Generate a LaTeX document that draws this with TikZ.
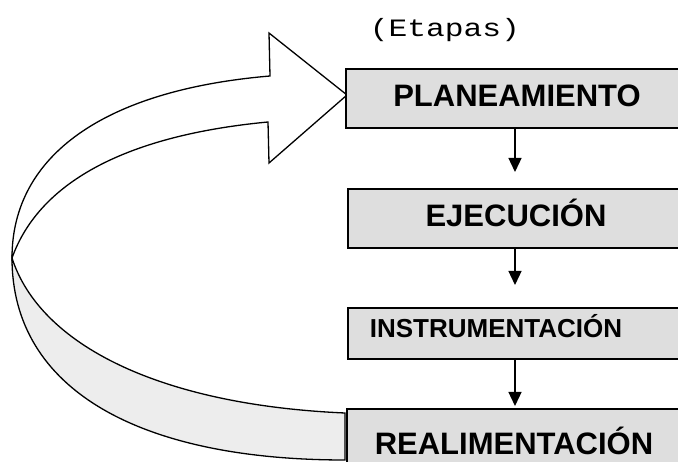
\documentclass[tikz,border=0pt]{standalone}
\usepackage{fontspec}
\usepackage{graphicx}
\setmainfont{Liberation Sans}
\newfontfamily\monofam{Liberation Mono}
\usetikzlibrary{arrows.meta}
\definecolor{stipple}{gray}{0.87}
\definecolor{bandgray}{gray}{0.93}
\tikzset{
  stage/.style={draw=black, line width=1.6pt, fill=stipple, rectangle, inner sep=0pt, anchor=north west, minimum width=360pt},
  lblbig/.style={font=\fontsize{31}{31}\selectfont\bfseries, anchor=base, inner sep=0pt},
  lblsmall/.style={font=\fontsize{26}{26}\selectfont\bfseries, anchor=base, inner sep=0pt},
  flow/.style={draw=black, line width=1.3pt, -{Triangle[width=13pt,length=14pt]}},
  band/.style={draw=black, line width=1.3pt, line join=miter}
}
\begin{document}
\begin{tikzpicture}[x=1pt,y=-1pt]
\clip (0,0) rectangle (678,462);
\fill[white] (0,0) rectangle (678,462);
% lower (grey) band of the loop
\path[band, fill=bandgray] (12,258) .. controls (12,390) and (140,460) .. (345,460)
  -- (345,413) .. controls (160,405) and (40,345) .. (12,258) -- cycle;
% upper band with the big open arrow head
\path[band, fill=white] (12,258) .. controls (12,155) and (105,90) .. (270,76)
  -- (269,33) -- (347,95) -- (269,163) -- (268,122)
  .. controls (130,135) and (40,180) .. (12,258) -- cycle;
% title
\node[font=\monofam\fontsize{25}{25}\selectfont, anchor=base, inner sep=0pt] (title) at (445,37) {\scalebox{1.25}[1]{(Etapas)}};
% stage boxes
\node[stage, minimum height=59pt] (b1) at (345,68) {};
\node[stage, minimum height=59pt] (b2) at (347,188) {};
\node[stage, minimum height=51pt] (b3) at (347,307) {};
\node[stage, minimum height=80pt] (b4) at (346,408) {};
% labels
\node[lblbig] (t1) at (517,107) {PLANEAMIENTO};
\node[lblbig] (t2) at (516,227) {EJECUCIÓN};
\node[lblsmall] (t3) at (496,338) {INSTRUMENTACIÓN};
\node[lblbig] (t4) at (514,455) {REALIMENTACIÓN};
% connectors
\draw[flow, shorten >=16pt] ([xshift=170pt]b1.south west) -- ([xshift=168pt]b2.north west);
\draw[flow, shorten >=22pt] ([xshift=168pt]b2.south west) -- ([xshift=168pt]b3.north west);
\draw[flow, shorten >=2pt] ([xshift=168pt]b3.south west) -- ([xshift=169pt]b4.north west);
\end{tikzpicture}
\end{document}
